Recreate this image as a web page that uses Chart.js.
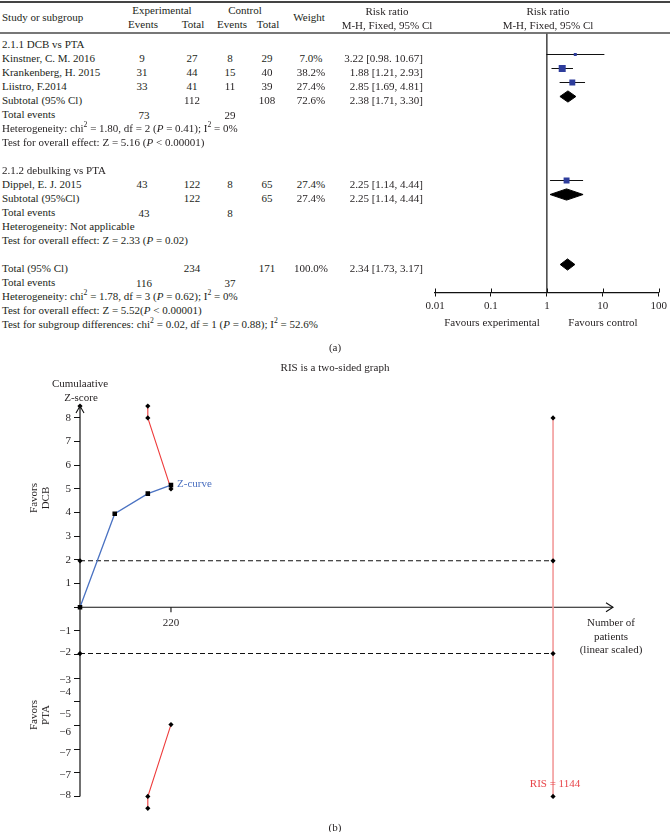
<!DOCTYPE html>
<html>
<head>
<meta charset="utf-8">
<script src="https://cdn.jsdelivr.net/npm/chart.js@4.4.0/dist/chart.umd.min.js"></script>
<style>
body { margin: 0; background: #fff; }
#page { position: relative; width: 670px; height: 832px; overflow: hidden;
        font-family: "Liberation Serif", "DejaVu Serif", serif; font-size: 11px; color: #231f20; }
.t { position: absolute; white-space: nowrap; line-height: 1; transform: translateY(-50%); }
.c { transform: translate(-50%, -50%); }
.r { transform: translate(-100%, -50%); }
.rot { transform: translate(-50%, -50%) rotate(-90deg); text-align: center; line-height: 12px; }
sup { font-size: 70%; vertical-align: super; line-height: 0; }
canvas { position: absolute; }
.rule { position: absolute; left: 0; width: 670px; }
</style>
</head>
<body>
<div id="page">
  <div class="rule" style="top:1px;height:1.5px;background:#444"></div>
  <div class="rule" style="top:32px;height:2px;background:#777"></div>
  <canvas id="forest" width="340" height="340" style="left:330px;top:0"></canvas>
  <canvas id="tsa" width="670" height="445" style="left:0;top:380px"></canvas>
</div>
<script>
// ---- (a) forest plot data
var studies = ['Kinstner, C. M. 2016', 'Krankenberg, H. 2015', 'Liistro, F.2014', 'Dippel, E. J. 2015'];
var studyRow = [1, 2, 3, 10];
var expEvents = [9, 31, 33, 43];
var expTotal = [27, 44, 41, 122];
var ctrlEvents = [8, 15, 11, 8];
var ctrlTotal = [29, 40, 39, 65];
var weights = [7.0, 38.2, 27.4, 27.4];
var rr = [3.22, 1.88, 2.85, 2.25];
var rrLow = [0.98, 1.21, 1.69, 1.14];
var rrHigh = [10.67, 2.93, 4.81, 4.44];
var rrText = ['3.22 [0.98. 10.67]', '1.88 [1.21, 2.93]', '2.85 [1.69, 4.81]', '2.25 [1.14, 4.44]'];

var pooledName = ['Subtotal (95% Cl)', 'Subtotal (95%Cl)', 'Total (95% Cl)'];
var pooledRow = [4, 11, 16];
var pooledExpTotal = [112, 122, 234];
var pooledCtrlTotal = [108, 65, 171];
var pooledWeight = ['72.6%', '27.4%', '100.0%'];
var pooledRR = [2.38, 2.25, 2.34];
var pooledLow = [1.71, 1.14, 1.73];
var pooledHigh = [3.30, 4.44, 3.17];
var pooledText = ['2.38 [1.71, 3.30]', '2.25 [1.14, 4.44]', '2.34 [1.73, 3.17]'];

var eventsRow = [5, 12, 17];
var eventsExp = [73, 43, 116];
var eventsCtrl = [29, 8, 37];

var noteRow = [0, 6, 7, 9, 13, 14, 18, 19, 20];
var noteText = [
  '2.1.1 DCB vs PTA',
  'Heterogeneity: chi<sup>2</sup> = 1.80, df = 2 (<i>P</i> = 0.41); I<sup>2</sup> = 0%',
  'Test for overall effect: Z = 5.16 (<i>P</i> &lt; 0.00001)',
  '2.1.2 debulking vs PTA',
  'Heterogeneity: Not applicable',
  'Test for overall effect: Z = 2.33 (<i>P</i> = 0.02)',
  'Heterogeneity: chi<sup>2</sup> = 1.78, df = 3 (<i>P</i> = 0.62); I<sup>2</sup> = 0%',
  'Test for overall effect: Z = 5.52(<i>P</i> &lt; 0.00001)',
  'Test for subgroup differences: chi<sup>2</sup> = 0.02, df = 1 (<i>P</i> = 0.88); I<sup>2</sup> = 52.6%'
];
var forestTicks = [0.01, 0.1, 1, 10, 100];

// ---- (b) TSA data
var zPatients = [0, 84, 164, 220];
var zScores = [0, 3.95, 4.8, 5.16];
var bndPatients = [164, 164, 220];
var bndUpper = [8.5, 8.0, 5.0];
var bndLower = [-8.5, -8.0, -4.96];
var risValue = 1144;
var risTop = 8, risBottom = -8;
var convBound = 1.96;
var axisXMax = 1289;
var axisYTop = 8.5, axisYBottom = -8;
var xTickValue = 220;
var yTicks = [8, 7, 6, 5, 4, 3, 2, 1, 0, -1, -2, -3, -4, -5, -6, -7, -8];
var negLabels = ['−1', '−2', '−3', '−4', '−5', '−6', '−7', '−7', '−8'];
var negLabelPos = [-1, -1.9, -3.1, -3.6, -4.5, -5.3, -6.15, -7.1, -7.95];

var page = document.getElementById('page');
function txt(x, y, html, cls, color) {
  var d = document.createElement('div');
  d.className = 't ' + (cls || '');
  d.style.left = x + 'px';
  d.style.top = y + 'px';
  if (color) d.style.color = color;
  d.innerHTML = html;
  page.appendChild(d);
  return d;
}
function rowY(k) { return 44 + 14 * k; }

// column centres
var colEvE = 142, colTotE = 192, colEvC = 230, colTotC = 267, colW = 311, colRR = 423;

// header
txt(2, 17, 'Study or subgroup');
txt(162, 10, 'Experimental', 'c');
txt(143, 24, 'Events', 'c');
txt(193, 24, 'Total', 'c');
txt(245, 10, 'Control', 'c');
txt(232, 24, 'Events', 'c');
txt(268, 24, 'Total', 'c');
txt(309, 17, 'Weight', 'c');
txt(387, 11, 'Risk ratio', 'c');
txt(387, 25, 'M-H, Fixed, 95% Cl', 'c');
txt(548, 11, 'Risk ratio', 'c');
txt(548, 25, 'M-H, Fixed, 95% Cl', 'c');

// table body
for (var i = 0; i < studies.length; i++) {
  var y = rowY(studyRow[i]);
  txt(2, y, studies[i]);
  txt(colEvE, y, expEvents[i], 'c');
  txt(colTotE, y, expTotal[i], 'c');
  txt(colEvC, y, ctrlEvents[i], 'c');
  txt(colTotC, y, ctrlTotal[i], 'c');
  txt(colW, y, weights[i].toFixed(1) + '%', 'c');
  txt(colRR, y, rrText[i], 'r');
}
for (var j = 0; j < pooledName.length; j++) {
  var yp = rowY(pooledRow[j]);
  txt(2, yp, pooledName[j]);
  txt(colTotE, yp, pooledExpTotal[j], 'c');
  txt(colTotC, yp, pooledCtrlTotal[j], 'c');
  txt(colW, yp, pooledWeight[j], 'c');
  txt(colRR, yp, pooledText[j], 'r');
}
for (var e = 0; e < eventsRow.length; e++) {
  var ye = rowY(eventsRow[e]) + 1;
  txt(2, ye - 1, 'Total events');
  txt(colEvE + 2, ye, eventsExp[e], 'c');
  txt(colEvC, ye, eventsCtrl[e], 'c');
}
for (var n = 0; n < noteRow.length; n++) {
  txt(2, rowY(noteRow[n]), noteText[n]);
}
txt(492, 322, 'Favours experimental', 'c');
txt(603, 322, 'Favours control', 'c');
txt(335, 347, '(a)', 'c');

// (b) texts
txt(335, 367, 'RIS is a two-sided graph', 'c');
txt(80, 383, 'Cumulaative', 'c');
txt(81, 397, 'Z-score', 'c');
txt(39, 498, 'Favors<br>DCB', 'rot');
txt(39, 715, 'Favors<br>PTA', 'rot');
txt(177, 483, 'Z-curve', '', '#4a6fc0');
txt(555, 783, 'RIS = 1144', 'c', '#e8454a');
var np = txt(611, 636, 'Number of<br>patients<br>(linear scaled)', 'c');
np.style.lineHeight = '13.5px';
np.style.textAlign = 'center';
txt(335, 827, '(b)', 'c');

Chart.defaults.font.family = '"Liberation Serif", serif';
Chart.defaults.font.size = 11;
Chart.defaults.color = '#231f20';

// ---- forest chart
var diamondHalf = 0.4;
var forestSets = [];
forestSets.push({
  data: studies.map(function (s, i) { return { x: rr[i], y: studyRow[i] }; }),
  pointStyle: 'rect',
  pointRadius: weights.map(function (w) { return 0.8 * Math.sqrt(w); }),
  backgroundColor: '#2e3d9c', borderColor: '#2e3d9c', borderWidth: 0, showLine: false
});
for (var p = 0; p < pooledRow.length; p++) {
  var r0 = pooledRow[p];
  forestSets.push({
    data: [
      { x: pooledLow[p], y: r0 }, { x: pooledRR[p], y: r0 - diamondHalf },
      { x: pooledHigh[p], y: r0 }, { x: pooledRR[p], y: r0 + diamondHalf },
      { x: pooledLow[p], y: r0 }
    ],
    showLine: true, fill: 'shape', backgroundColor: '#000', borderColor: '#000',
    borderWidth: 1, pointRadius: 0
  });
}
for (var s = 0; s < studies.length; s++) {
  forestSets.push({
    data: [{ x: rrLow[s], y: studyRow[s] }, { x: rrHigh[s], y: studyRow[s] }],
    showLine: true, borderColor: '#111', borderWidth: 1, pointRadius: 0
  });
}
forestSets.push({
  data: [{ x: 1, y: -0.5 }, { x: 1, y: 18 }],
  showLine: true, borderColor: '#111', borderWidth: 1.2, pointRadius: 0
});

// tick marks also above the axis line
var forestTickUp = {
  id: 'forestTickUp',
  afterDraw: function (chart) {
    var ctx = chart.ctx, xs = chart.scales.x;
    ctx.save();
    ctx.strokeStyle = '#111';
    ctx.lineWidth = 1;
    ctx.beginPath();
    forestTicks.forEach(function (v) {
      var px = Math.round(xs.getPixelForValue(v)) + 0.5;
      ctx.moveTo(px, xs.top - 4);
      ctx.lineTo(px, xs.top);
    });
    ctx.stroke();
    ctx.restore();
  }
};

new Chart(document.getElementById('forest').getContext('2d'), {
  type: 'scatter',
  data: { datasets: forestSets },
  options: {
    responsive: false,
    animation: false,
    layout: { padding: { left: 105, right: 10, top: 33.5, bottom: 25.5 } },
    plugins: { legend: { display: false }, tooltip: { enabled: false } },
    scales: {
      x: {
        type: 'logarithmic', min: 0.01, max: 100,
        afterBuildTicks: function (sc) { sc.ticks = forestTicks.map(function (v) { return { value: v }; }); },
        afterFit: function (sc) { sc.height = 22; },
        grid: { drawOnChartArea: false, tickLength: 4, color: '#111' },
        border: { color: '#111', width: 1.2 },
        ticks: { padding: 3, autoSkip: false, maxRotation: 0, callback: function (v) { return String(v); } }
      },
      y: { type: 'linear', min: -0.5, max: 18, reverse: true, display: false }
    }
  },
  plugins: [forestTickUp]
});

// ---- TSA chart
function pts(xs, ys) { return xs.map(function (x, i) { return { x: x, y: ys[i] }; }); }

var tsaExtras = {
  id: 'tsaExtras',
  afterDatasetsDraw: function (chart) {
    var ctx = chart.ctx, xs = chart.scales.x, ys = chart.scales.y;
    var x0 = xs.getPixelForValue(0), y0 = ys.getPixelForValue(0);
    var xe = xs.getPixelForValue(axisXMax), yt = ys.getPixelForValue(axisYTop);
    var xt = xs.getPixelForValue(xTickValue);
    ctx.save();
    ctx.strokeStyle = '#111';
    ctx.lineWidth = 1.1;
    ctx.beginPath();
    ctx.moveTo(xe - 7, y0 - 4.5); ctx.lineTo(xe, y0); ctx.lineTo(xe - 7, y0 + 4.5);
    ctx.moveTo(x0 - 4, yt + 7); ctx.lineTo(x0, yt); ctx.lineTo(x0 + 4, yt + 7);
    ctx.moveTo(xt, y0); ctx.lineTo(xt, y0 + 5);
    ctx.stroke();
    ctx.fillStyle = '#231f20';
    ctx.font = '11px "Liberation Serif", serif';
    ctx.textAlign = 'center';
    ctx.textBaseline = 'middle';
    ctx.fillText(String(xTickValue), xt, y0 + 16);
    ctx.textAlign = 'right';
    for (var i = 0; i < negLabels.length; i++) {
      ctx.fillText(negLabels[i], ys.right - 9, ys.getPixelForValue(negLabelPos[i]));
    }
    ctx.restore();
  }
};

var diamond = { pointStyle: 'rectRot', pointRadius: 2.6, pointBackgroundColor: '#000', pointBorderColor: '#000', pointBorderWidth: 0 };
function withDiamonds(o) { return Object.assign({}, diamond, o); }

var tsaSets = [
  {
    data: pts(zPatients, zScores), showLine: true, borderColor: '#4a72c2', borderWidth: 1.3,
    pointStyle: 'rect', pointRadius: 2.3, pointBackgroundColor: '#000', pointBorderColor: '#000', clip: false
  },
  withDiamonds({ data: pts(bndPatients, bndUpper), showLine: true, borderColor: '#ee3b3b', borderWidth: 1.1, clip: false }),
  withDiamonds({ data: pts(bndPatients, bndLower), showLine: true, borderColor: '#ee3b3b', borderWidth: 1.1, clip: false }),
  withDiamonds({ data: [{ x: 0, y: convBound }, { x: risValue, y: convBound }], showLine: true,
    borderColor: '#111', borderWidth: 1.1, borderDash: [5, 3], clip: false }),
  withDiamonds({ data: [{ x: 0, y: -convBound }, { x: risValue, y: -convBound }], showLine: true,
    borderColor: '#111', borderWidth: 1.1, borderDash: [5, 3], clip: false }),
  withDiamonds({ data: [{ x: risValue, y: risBottom }, { x: risValue, y: risTop }], showLine: true,
    borderColor: '#f29a9a', borderWidth: 1.6, clip: false }),
  { data: [{ x: 0, y: 0 }, { x: axisXMax, y: 0 }], showLine: true, borderColor: '#111', borderWidth: 1.1, pointRadius: 0, clip: false },
  withDiamonds({ data: [{ x: 0, y: axisYBottom }, { x: 0, y: axisYTop }], showLine: true, borderColor: '#111',
    borderWidth: 1.2, pointRadius: [0, 2.6], clip: false })
];

new Chart(document.getElementById('tsa').getContext('2d'), {
  type: 'scatter',
  data: { datasets: tsaSets },
  options: {
    responsive: false,
    animation: false,
    layout: { padding: { left: 0, right: 57, top: 14.25, bottom: 8 } },
    plugins: { legend: { display: false }, tooltip: { enabled: false } },
    scales: {
      x: { type: 'linear', min: 0, max: axisXMax, display: false },
      y: {
        type: 'linear', min: -8.8, max: 9,
        afterBuildTicks: function (sc) { sc.ticks = yTicks.map(function (v) { return { value: v }; }); },
        afterFit: function (sc) { sc.width = 80; },
        grid: { drawOnChartArea: false, drawTicks: true, tickLength: 6, color: '#111' },
        border: { display: false },
        ticks: { padding: 3, autoSkip: false, callback: function (v) { return v > 0 ? String(v) : ''; } }
      }
    }
  },
  plugins: [tsaExtras]
});
</script>
</body>
</html>
